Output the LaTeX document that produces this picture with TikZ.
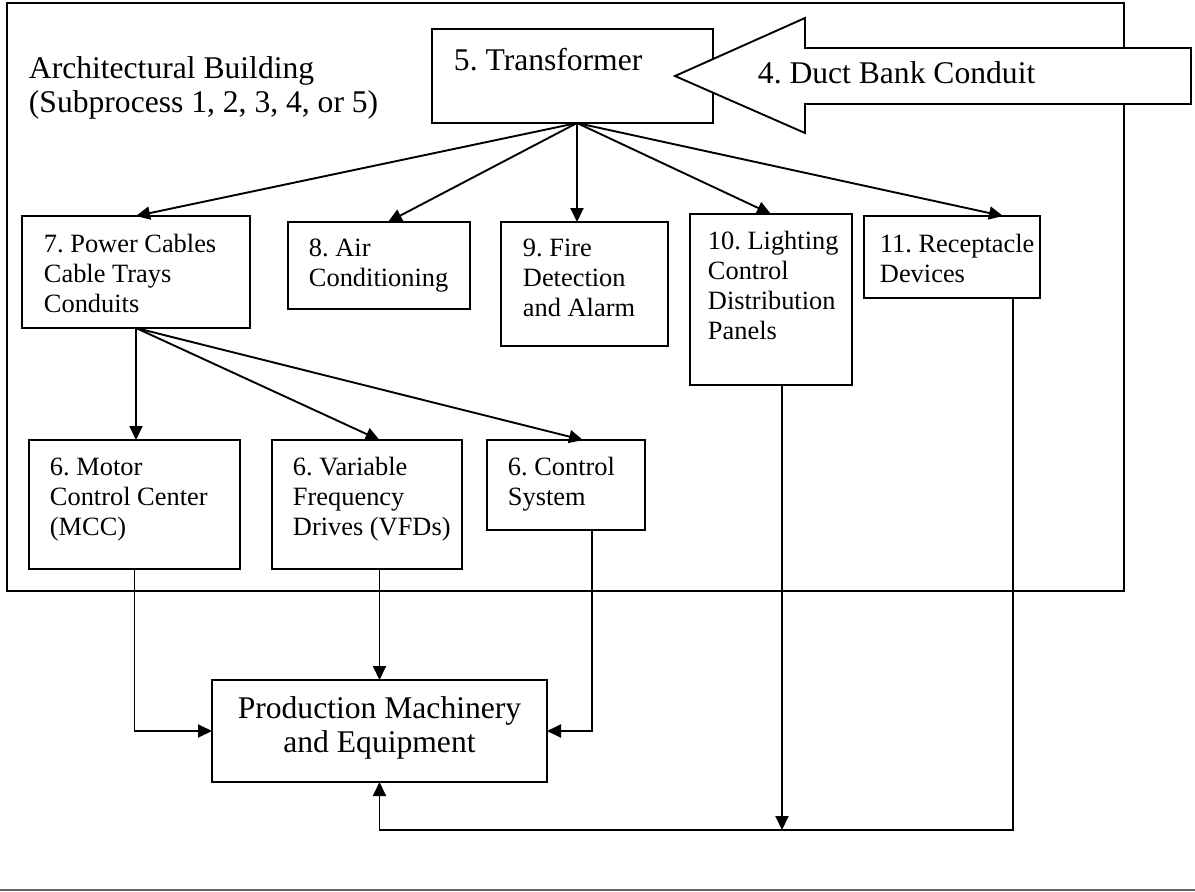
\documentclass[tikz,border=0pt]{standalone}
\usepackage{fontspec}
\setmainfont{Liberation Serif}
\usetikzlibrary{arrows.meta}
\newcommand{\smalltxt}{\fontsize{26.4}{30}\selectfont}
\newcommand{\bigtxt}{\fontsize{31.6}{34}\selectfont}
\frenchspacing
\begin{document}
\begin{tikzpicture}[x=1pt,y=-1pt,line width=1.9pt,
  box/.style={draw,rectangle,inner sep=0pt,outer sep=0pt,anchor=north west,fill=white},
  lbl/.style={anchor=base west,inner sep=0pt,font=\smalltxt},
  biglbl/.style={anchor=base west,inner sep=0pt,font=\bigtxt},
  arr/.style={-{Triangle[length=14pt,width=13pt]}}]
\useasboundingbox (0,0) rectangle (1195,892);
% outer building
\node[box,minimum width=1117pt,minimum height=588pt] (bldg) at (7,3) {};
\node[biglbl] (bldgtxt) at (28,78) {\begin{tabular}[t]{@{}l@{}}Architectural Building\\(Subprocess 1, 2, 3, 4, or 5)\end{tabular}};
% transformer
\node[box,minimum width=281pt,minimum height=94pt] (tr) at (432,29) {};
\node[biglbl] (trtxt) at (453,70) {5. Transformer};
% duct bank arrow
\draw[fill=white,line join=miter] (675,76) -- (805,18) -- (805,48) -- (1191,48) -- (1191,104) -- (805,104) -- (805,133) -- cycle;
\node[biglbl] (duct) at (757,83) {4. Duct Bank Conduit};
% second row
\node[box,minimum width=228pt,minimum height=112pt] (b7) at (22,216) {};
\node[lbl] (b7t) at (43,252) {\begin{tabular}[t]{@{}l@{}}7. Power Cables\\Cable Trays\\Conduits\end{tabular}};
\node[box,minimum width=182pt,minimum height=87pt] (b8) at (288,222) {};
\node[lbl] (b8t) at (308,256) {\begin{tabular}[t]{@{}l@{}}8. Air\\Conditioning\end{tabular}};
\node[box,minimum width=167pt,minimum height=124pt] (b9) at (501,222) {};
\node[lbl] (b9t) at (522,256) {\begin{tabular}[t]{@{}l@{}}9. Fire\\Detection\\and Alarm\end{tabular}};
\node[box,minimum width=162pt,minimum height=171pt] (b10) at (690,214) {};
\node[lbl] (b10t) at (707,249) {\begin{tabular}[t]{@{}l@{}}10. Lighting\\Control\\Distribution\\Panels\end{tabular}};
\node[box,minimum width=176pt,minimum height=82pt] (b11) at (864,216) {};
\node[lbl] (b11t) at (879,252) {\begin{tabular}[t]{@{}l@{}}11. Receptacle\\Devices\end{tabular}};
% third row
\node[box,minimum width=211pt,minimum height=129pt] (mcc) at (29,440) {};
\node[lbl] (mcct) at (49,475) {\begin{tabular}[t]{@{}l@{}}6. Motor\\Control Center\\(MCC)\end{tabular}};
\node[box,minimum width=190pt,minimum height=129pt] (vfd) at (272,440) {};
\node[lbl] (vfdt) at (292,475) {\begin{tabular}[t]{@{}l@{}}6. Variable\\Frequency\\Drives (VFDs)\end{tabular}};
\node[box,minimum width=158pt,minimum height=90pt] (cs) at (487,440) {};
\node[lbl] (cst) at (507,475) {\begin{tabular}[t]{@{}l@{}}6. Control\\System\end{tabular}};
% production
\node[box,minimum width=335pt,minimum height=102pt] (prod) at (212,680) {};
\node[anchor=base,inner sep=0pt,font=\bigtxt] (prodt) at (379.5,718) {\begin{tabular}[t]{@{}c@{}}Production Machinery\\and Equipment\end{tabular}};
% connectors from transformer
\coordinate (fan) at (577,123);
\draw[arr] (fan) -- (b7.north);
\draw[arr] (fan) -- ([xshift=9pt]b8.north);
\draw[arr] (fan) -- (fan |- b9.north);
\draw[arr] (fan) -- (b10.north);
\draw[arr] (fan) -- ([xshift=51pt]b11.north);
% connectors from power cables
\draw[arr] (b7.south) -- (b7.south |- mcc.north);
\draw[arr] (b7.south) -- (vfd.north -| prod.north);
\draw[arr] (b7.south) -- ([xshift=17pt]cs.north);
% to production
\coordinate (bus) at (0,830);
\draw[arr] (mcc.south) |- (prod.west);
\draw[arr] (vfd.south -| prod.north) -- (prod.north);
\draw[arr] ([xshift=26pt]cs.south) |- (prod.east);
\draw[arr] ([xshift=11pt]b10.south) -- ([xshift=11pt]b10.south |- bus);
\draw[arr] ([xshift=61pt]b11.south) -- ([xshift=61pt]b11.south |- bus) -| (prod.south);
% page rule
\draw[black!60,line width=2pt] (0,890) -- (1195,890);
\end{tikzpicture}
\end{document}
